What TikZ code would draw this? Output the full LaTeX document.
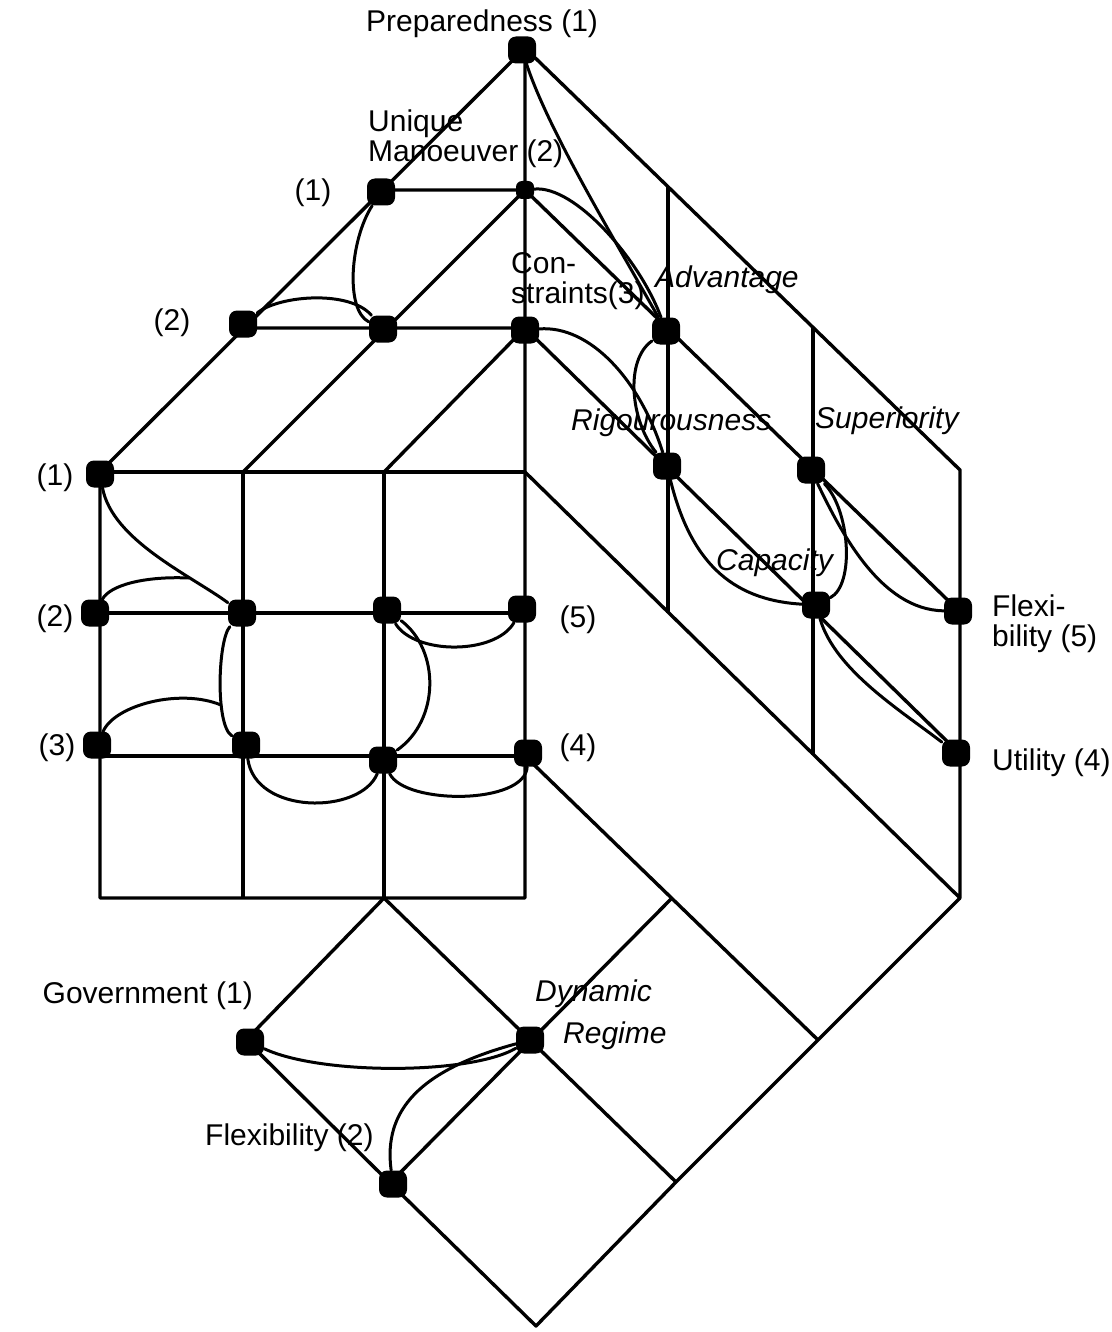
\documentclass[tikz,border=0pt]{standalone}
\usepackage{fontspec}
\setmainfont{Liberation Sans}
\begin{document}
\begin{tikzpicture}[x=1pt,y=-1pt,
  gridline/.style={line width=3.4pt, line join=round},
  link/.style={line width=3pt, line join=round, line cap=round},
  dot/.style={fill=black, draw=none, rectangle, rounded corners=8pt, minimum width=28pt, minimum height=27pt, inner sep=0pt},
  smalldot/.style={dot, minimum width=18pt, minimum height=18pt, rounded corners=6pt},
  lab/.style={font=\fontsize{30}{30}\selectfont, inner sep=0pt, align=left},
  ilab/.style={font=\fontsize{30}{30}\selectfont\itshape, inner sep=0pt}
]
\useasboundingbox (0,0) rectangle (1111,1332);

% ---- lattice coordinates ----
\coordinate (A)  at (525,48);
\coordinate (B1) at (382,190);
\coordinate (B2) at (525,190);
\coordinate (C1) at (244,328);
\coordinate (C2) at (384,328);
\coordinate (C3) at (525,328);
\coordinate (D0) at (100,472);
\coordinate (D1) at (243,472);
\coordinate (D2) at (384,472);
\coordinate (D3) at (525,472);
\coordinate (M0) at (100,613);
\coordinate (M3) at (525,613);
\coordinate (L0) at (100,756);
\coordinate (L3) at (525,756);
\coordinate (K0) at (100,898);
\coordinate (K1) at (243,898);
\coordinate (K3) at (525,898);
\coordinate (R1) at (668,187);
\coordinate (R2) at (813,327);
\coordinate (R3) at (960,470);
\coordinate (V1) at (668,613);
\coordinate (V2) at (813,755);
\coordinate (Q1) at (960,612);
\coordinate (Q2) at (960,754);
\coordinate (E0) at (384,898);
\coordinate (E1) at (246,1040);
\coordinate (E3) at (390,1183);
\coordinate (E4) at (676,1182);
\coordinate (E5) at (536,1326);
\coordinate (E6) at (672,898);
\coordinate (E7) at (818,1040);
\coordinate (E8) at (960,898);

% ---- grid lines ----
\draw[gridline] (A) -- (D0) -- (K0) -- (K3) -- (A);
\draw[gridline] (A) -- (R3) -- (E8) -- (D3);
\draw[gridline] (B1) -- (B2) -- (Q1);
\draw[gridline] (C1) -- (C3) -- (Q2);
\draw[gridline] (D1) -- (B2);
\draw[gridline] (D2) -- (C3);
\draw[gridline] (R1) -- (V1);
\draw[gridline] (R2) -- (V2);
\draw[gridline] (D0) -- (D3);
\draw[gridline] (M0) -- (M3);
\draw[gridline] (L0) -- (L3);
\draw[gridline] (D1) -- (K1);
\draw[gridline] (D2) -- (E0);
\draw[gridline] (E0) -- (E1) -- (E3) -- (E5) -- (E4) -- (E7) -- (E8);
\draw[gridline] (E0) -- (E4);
\draw[gridline] (E3) -- (E6);
\draw[gridline] (L3) -- (E7);

% ---- dots ----
\node[dot] (P0) at (522,50) {};
\node[dot] (U1) at (381,192) {};
\node[smalldot] (U2) at (525,190) {};
\node[dot] (T2) at (243,324) {};
\node[dot] (T3) at (383,329) {};
\node[dot] (CS) at (525,330) {};
\node[dot] (Adv) at (666,331) {};
\node[dot] (Rig) at (667,466) {};
\node[dot] (Sup) at (811,470) {};
\node[dot] (Cap) at (816,605) {};
\node[dot] (Fl5) at (958,611) {};
\node[dot] (Ut) at (956,753) {};
\node[dot] (F1) at (100,474) {};
\node[dot] (F2) at (95,613) {};
\node[dot] (F22) at (242,613) {};
\node[dot] (F23) at (387,610) {};
\node[dot] (F25) at (522,609) {};
\node[dot] (F3) at (97,745) {};
\node[dot] (F32) at (246,745) {};
\node[dot] (F33) at (383,760) {};
\node[dot] (F4) at (528,753) {};
\node[dot] (G1) at (250,1042) {};
\node[dot] (DR) at (530,1040) {};
\node[dot] (FL2) at (393,1184) {};

% ---- hand drawn links ----
\coordinate (J1) at (189,578);
\coordinate (J2) at (221,705);
\draw[link] (P0) .. controls (548,130) and (615,240) .. (Adv);
\draw[link] (U2) .. controls (575,185) and (640,260) .. (Adv);
\draw[link] (U1) .. controls (350,240) and (345,310) .. (T3);
\draw[link] (T2) .. controls (280,295) and (350,290) .. (T3);
\draw[link] (CS) .. controls (590,325) and (640,380) .. (Rig);
\draw[link] (Adv) .. controls (625,360) and (630,420) .. (Rig);
\draw[link] (Rig) .. controls (690,560) and (730,600) .. (Cap);
\draw[link] (Sup) .. controls (850,510) and (855,585) .. (Cap);
\draw[link] (Sup) .. controls (840,530) and (880,610) .. (Fl5);
\draw[link] (Cap) .. controls (835,670) and (900,710) .. (Ut);
\draw[link] (F1) .. controls (112,540) and (190,575) .. (F22);
\draw[link] (F2) .. controls (110,585) and (145,576) .. (J1);
\draw[link] (F22) .. controls (218,640) and (215,725) .. (F32);
\draw[link] (F3) .. controls (115,705) and (180,688) .. (J2);
\draw[link] (F23) .. controls (415,655) and (495,655) .. (F25);
\draw[link] (F23) .. controls (440,650) and (440,720) .. (F33);
\draw[link] (F32) .. controls (255,815) and (360,815) .. (F33);
\draw[link] (F33) .. controls (405,805) and (525,805) .. (F4);
\draw[link] (G1) .. controls (320,1075) and (470,1075) .. (DR);
\draw[link] (FL2) .. controls (383,1110) and (420,1070) .. (DR);

% ---- labels ----
\node[lab, anchor=base west] (lPrep) at (366,32) {Preparedness (1)};
\node[lab, anchor=base west] (lMan) at (368,162) {Unique\\Manoeuver (2)};
\node[lab] (lU1) at (313,193) {(1)};
\node[lab] (lT2) at (172,323) {(2)};
\node[lab, anchor=base west] (lCon) at (511,303) {Con-\\straints(3)};
\node[ilab, anchor=base west] (lAdv) at (655,287) {Advantage};
\node[ilab, anchor=base west] (lRig) at (571,430) {Rigourousness};
\node[ilab, anchor=base west] (lSup) at (815,428) {Superiority};
\node[ilab, anchor=base west] (lCap) at (716,570) {Capacity};
\node[lab, anchor=base west] (lFx) at (992,646) {Flexi-\\bility (5)};
\node[lab, anchor=base west] (lUt) at (992,770) {Utility (4)};
\node[lab] (lF1) at (55,478) {(1)};
\node[lab] (lF2) at (55,619) {(2)};
\node[lab] (lF3) at (57,748) {(3)};
\node[lab] (lF5) at (578,620) {(5)};
\node[lab] (lF4) at (578,748) {(4)};
\node[lab, anchor=base east] (lGov) at (253,1003) {Government (1)};
\node[ilab, anchor=base west] (lDyn) at (535,1001) {Dynamic};
\node[ilab, anchor=base west] (lReg) at (563,1043) {Regime};
\node[lab, anchor=base west] (lFl2) at (205,1145) {Flexibility (2)};
\end{tikzpicture}
\end{document}
